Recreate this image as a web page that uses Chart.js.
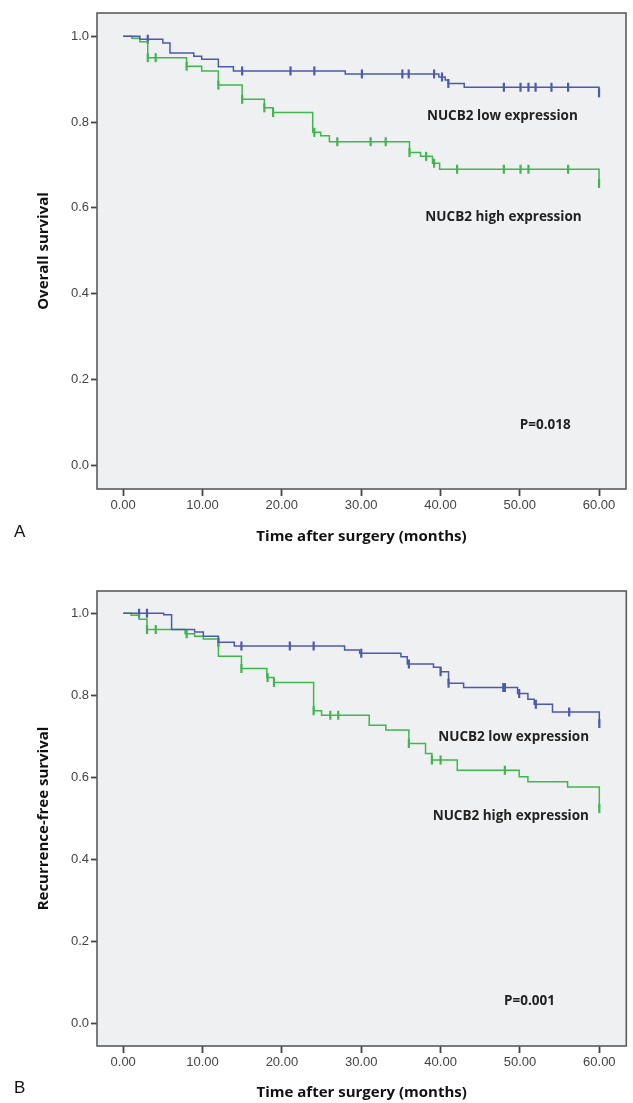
<!DOCTYPE html>
<html>
<head>
	<meta charset="UTF-8">
	<title>NUCB2 survival</title>
	<script src="https://cdn.jsdelivr.net/npm/chart.js@4.4.1/dist/chart.umd.min.js"></script>
	<style>
		body { margin: 0; background: #fff; }
		canvas { position: absolute; left: 0; }
	</style>
</head>
<body>

	<canvas id="chart_os" width="633" height="560" style="top: 0px;"></canvas>
	<canvas id="chart_rfs" width="633" height="543" style="top: 560px;"></canvas>

	<script>
		var xTicks = [0, 10, 20, 30, 40, 50, 60];
		var yTicks = [0, 0.2, 0.4, 0.6, 0.8, 1.0];

		// A - overall survival
		var osLowTime = [0, 2.1, 5.0, 5.9, 8.9, 9.9, 12.0, 13.9, 28.0, 39.8, 40.6, 41.0, 43.0, 60.0];
		var osLowSurv = [1.0, 0.993, 0.984, 0.961, 0.953, 0.946, 0.929, 0.919, 0.912, 0.905, 0.898, 0.890, 0.881, 0.868];
		var osLowCensorTime = [3.1, 15.0, 21.1, 24.1, 30.1, 35.2, 36.0, 39.2, 40.2, 41.0, 48.0, 50.1, 51.1, 52.0, 54.0, 56.1, 60.0];
		var osLowCensorSurv = [0.993, 0.919, 0.919, 0.919, 0.912, 0.912, 0.912, 0.912, 0.905, 0.890, 0.881, 0.881, 0.881, 0.881, 0.881, 0.881, 0.868];

		var osHighTime = [0, 1.1, 2.1, 3.1, 8.0, 9.9, 12.0, 15.0, 17.8, 18.9, 23.9, 24.9, 26.0, 36.1, 37.5, 39.0, 39.9, 60.0];
		var osHighSurv = [1.0, 0.995, 0.987, 0.950, 0.930, 0.919, 0.886, 0.853, 0.833, 0.822, 0.776, 0.768, 0.754, 0.729, 0.720, 0.704, 0.690, 0.657];
		var osHighCensorTime = [3.1, 4.1, 8.0, 12.0, 15.0, 17.8, 18.9, 24.1, 27.0, 31.2, 33.1, 36.1, 38.2, 39.2, 42.1, 48.0, 50.1, 51.1, 56.1, 60.0];
		var osHighCensorSurv = [0.950, 0.950, 0.930, 0.886, 0.853, 0.833, 0.822, 0.776, 0.754, 0.754, 0.754, 0.729, 0.720, 0.704, 0.690, 0.690, 0.690, 0.690, 0.690, 0.657];

		// B - recurrence-free survival
		var rfsLowTime = [0, 5.1, 6.1, 9.0, 10.1, 12.0, 14.0, 27.9, 29.8, 35.0, 35.8, 39.1, 40.0, 41.0, 42.9, 49.7, 51.0, 51.8, 54.1, 60.0];
		var rfsLowSurv = [1.0, 0.996, 0.960, 0.954, 0.944, 0.929, 0.920, 0.910, 0.902, 0.894, 0.876, 0.868, 0.857, 0.829, 0.819, 0.804, 0.790, 0.778, 0.759, 0.731];
		var rfsLowCensorTime = [2.0, 3.0, 12.0, 14.9, 21.0, 24.0, 30.0, 36.0, 40.0, 41.0, 47.9, 48.1, 49.9, 52.0, 56.2, 60.0];
		var rfsLowCensorSurv = [1.0, 1.0, 0.929, 0.920, 0.920, 0.920, 0.902, 0.876, 0.857, 0.829, 0.819, 0.819, 0.804, 0.778, 0.759, 0.731];

		var rfsHighTime = [0, 1.0, 2.0, 3.0, 7.8, 9.0, 10.1, 12.0, 14.9, 18.1, 19.0, 24.0, 25.0, 31.0, 33.1, 36.0, 38.1, 38.9, 42.1, 49.9, 51.0, 56.0, 60.0];
		var rfsHighSurv = [1.0, 0.995, 0.985, 0.960, 0.950, 0.944, 0.937, 0.895, 0.865, 0.843, 0.831, 0.762, 0.751, 0.727, 0.715, 0.682, 0.658, 0.642, 0.617, 0.601, 0.589, 0.576, 0.524];
		var rfsHighCensorTime = [3.0, 4.1, 8.0, 14.9, 18.2, 19.0, 24.0, 26.1, 27.1, 36.0, 38.9, 40.0, 48.1, 60.0];
		var rfsHighCensorSurv = [0.960, 0.960, 0.950, 0.865, 0.843, 0.831, 0.762, 0.751, 0.751, 0.682, 0.642, 0.642, 0.617, 0.524];

		var lowColor = '#4d5aaa';
		var highColor = '#3fb64e';
		var tickFont = { family: 'Liberation Sans', size: 13 };

		function points(t, s) {
			var out = [];
			for (var i = 0; i < t.length; i++) out.push({ x: t[i], y: s[i] });
			return out;
		}

		var framePlugin = {
			id: 'frame',
			beforeDraw: function(chart) {
				var a = chart.chartArea, ctx = chart.ctx;
				ctx.save();
				ctx.fillStyle = '#eff0f2';
				ctx.fillRect(a.left, a.top, a.right - a.left, a.bottom - a.top);
				ctx.restore();
			},
			afterDraw: function(chart) {
				var a = chart.chartArea, ctx = chart.ctx;
				var o = chart.options.plugins.frame;
				ctx.save();
				ctx.strokeStyle = '#5c5c5c';
				ctx.lineWidth = 1.6;
				ctx.strokeRect(a.left, a.top, a.right - a.left, a.bottom - a.top);
				ctx.fillStyle = '#222';
				ctx.font = 'bold 13.5px "Open Sans"';
				ctx.textBaseline = 'middle';
				ctx.textAlign = 'left';
				o.notes.forEach(function(n) {
					ctx.fillText(n.text, chart.scales.x.getPixelForValue(n.x), chart.scales.y.getPixelForValue(n.y));
				});
				ctx.font = '17px "Liberation Sans"';
				ctx.fillStyle = '#111';
				ctx.fillText(o.letter, o.letterX, o.letterY);
				ctx.restore();
			}
		};

		function drawKM(id, d) {
			var ctx = document.getElementById(id).getContext('2d');
			return new Chart(ctx, {
				type: 'line',
				data: {
					datasets: [{
						data: points(d.lowT, d.lowS),
						borderColor: lowColor,
						borderWidth: 1.5,
						pointRadius: 0,
						stepped: 'before',
						fill: false
					}, {
						data: points(d.highT, d.highS),
						borderColor: highColor,
						borderWidth: 1.5,
						pointRadius: 0,
						stepped: 'before',
						fill: false
					}, {
						type: 'scatter',
						data: points(d.lowCT, d.lowCS),
						borderColor: lowColor,
						backgroundColor: lowColor,
						pointStyle: 'line',
						rotation: 90,
						radius: 4.5,
						borderWidth: 2.2
					}, {
						type: 'scatter',
						data: points(d.highCT, d.highCS),
						borderColor: highColor,
						backgroundColor: highColor,
						pointStyle: 'line',
						rotation: 90,
						radius: 4.5,
						borderWidth: 2.2
					}]
				},
				options: {
					responsive: false,
					animation: false,
					devicePixelRatio: 1,
					layout: { padding: { top: d.padTop, right: d.padRight, left: 0, bottom: 0 } },
					plugins: {
						legend: { display: false },
						tooltip: { enabled: false },
						frame: { notes: d.notes, letter: d.letter, letterX: 14, letterY: d.letterY }
					},
					scales: {
						x: {
							type: 'linear',
							min: -3.3,
							max: 63.4,
							afterBuildTicks: function(s) { s.ticks = xTicks.map(function(v) { return { value: v }; }); },
							afterFit: function(s) { s.height = d.xHeight; },
							ticks: {
								color: '#444',
								font: tickFont,
								padding: 2,
								maxRotation: 0,
								callback: function(v) { return v.toFixed(2); }
							},
							grid: { drawOnChartArea: false, drawTicks: true, tickLength: 7, tickWidth: 1.8, color: '#444' },
							border: { display: false },
							title: {
								display: true,
								text: 'Time after surgery (months)',
								color: '#111',
								font: { family: 'Open Sans', size: 15, weight: 'bold' },
								padding: { top: 0, bottom: d.xTitlePad }
							}
						},
						y: {
							type: 'linear',
							min: -0.055,
							max: 1.054,
							afterBuildTicks: function(s) { s.ticks = yTicks.map(function(v) { return { value: v }; }); },
							afterFit: function(s) { s.width = 97; },
							ticks: {
								color: '#444',
								font: tickFont,
								padding: 2,
								callback: function(v) { return v.toFixed(1); }
							},
							grid: { drawOnChartArea: false, drawTicks: true, tickLength: 6, tickWidth: 1.8, color: '#444' },
							border: { display: false },
							title: {
								display: true,
								text: d.yTitle,
								color: '#111',
								font: { family: 'Open Sans', size: 15, weight: 'bold' },
								padding: { top: 35, bottom: 0 }
							}
						}
					}
				},
				plugins: [framePlugin]
			});
		}

		drawKM('chart_os', {
			lowT: osLowTime, lowS: osLowSurv, lowCT: osLowCensorTime, lowCS: osLowCensorSurv,
			highT: osHighTime, highS: osHighSurv, highCT: osHighCensorTime, highCS: osHighCensorSurv,
			yTitle: 'Overall survival',
			padTop: 13, padRight: 7, xHeight: 71, xTitlePad: 14,
			letter: 'A', letterY: 532,
			notes: [
				{ text: 'NUCB2 low expression', x: 38.3, y: 0.814 },
				{ text: 'NUCB2 high expression', x: 38.1, y: 0.579 },
				{ text: 'P=0.018', x: 50.0, y: 0.093 }
			]
		});

		drawKM('chart_rfs', {
			lowT: rfsLowTime, lowS: rfsLowSurv, lowCT: rfsLowCensorTime, lowCS: rfsLowCensorSurv,
			highT: rfsHighTime, highS: rfsHighSurv, highCT: rfsHighCensorTime, highCS: rfsHighCensorSurv,
			yTitle: 'Recurrence-free survival',
			padTop: 31, padRight: 1, xHeight: 57, xTitlePad: 1,
			letter: 'B', letterY: 528,
			notes: [
				{ text: 'NUCB2 low expression', x: 39.7, y: 0.698 },
				{ text: 'NUCB2 high expression', x: 39.0, y: 0.505 },
				{ text: 'P=0.001', x: 48.0, y: 0.054 }
			]
		});
	</script>
</body>
</html>
